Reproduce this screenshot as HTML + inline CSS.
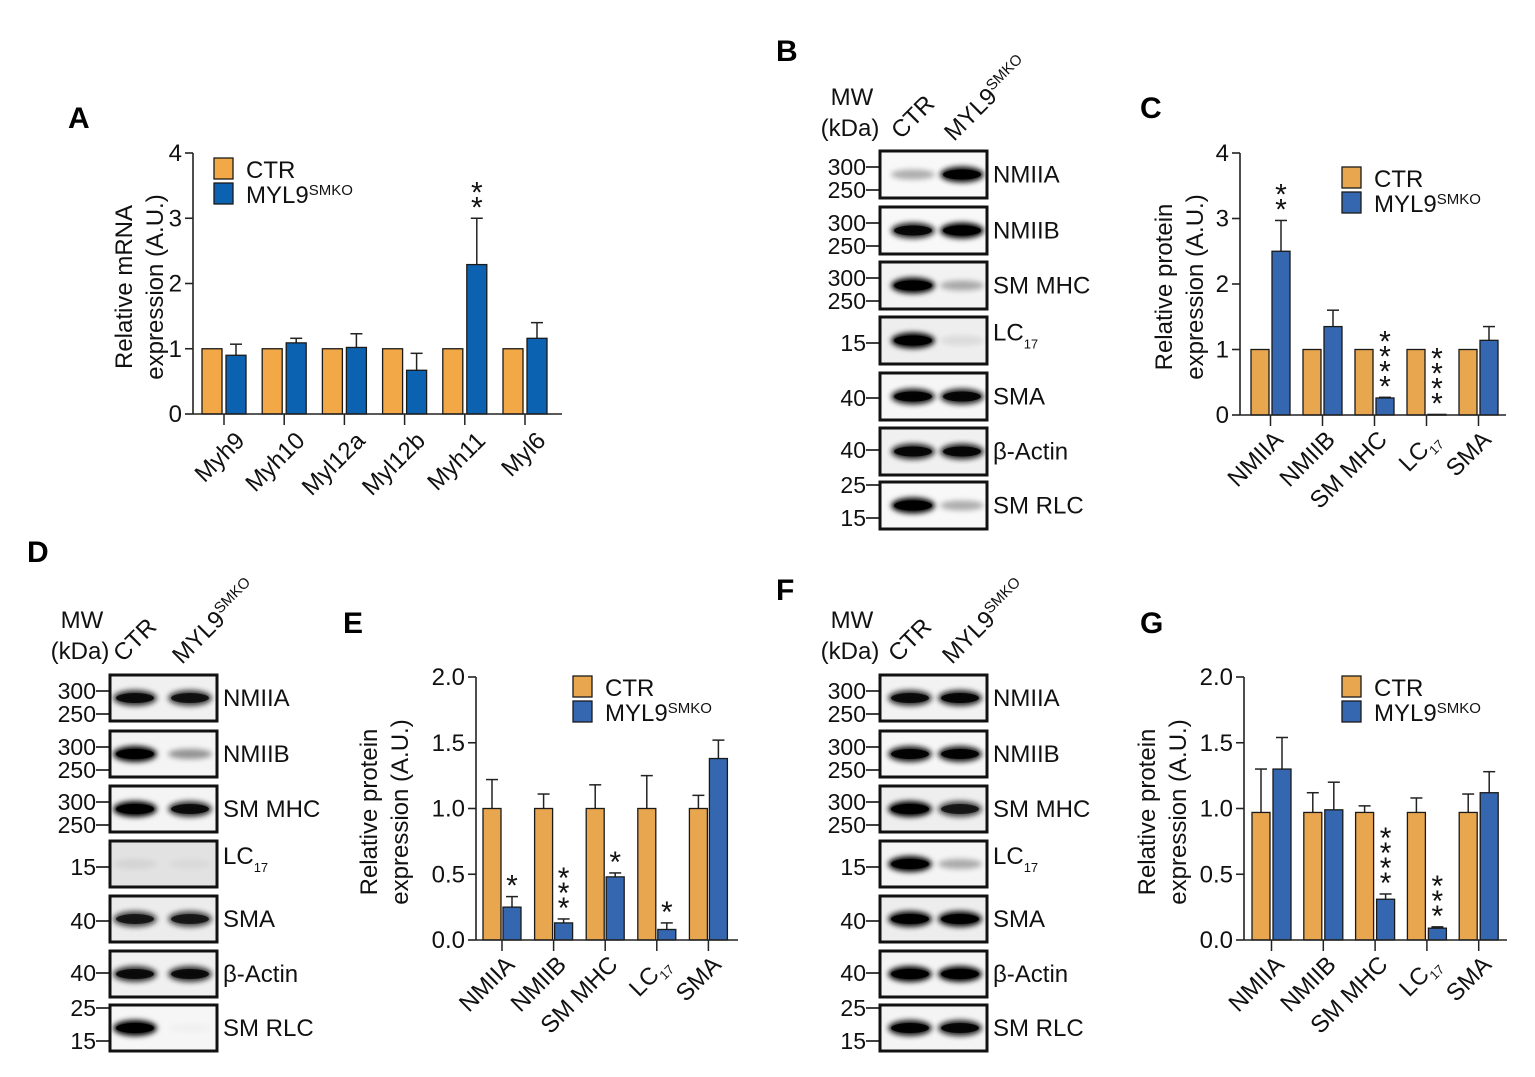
<!DOCTYPE html>
<html><head><meta charset="utf-8">
<style>
html,body{margin:0;padding:0;background:#fff;}
svg{display:block;font-family:"Liberation Sans",Arial,sans-serif;}
</style></head>
<body>
<svg id="fig" width="1535" height="1077" viewBox="0 0 1535 1077" xmlns="http://www.w3.org/2000/svg">
<defs>
<filter id="blur3" x="-50%" y="-100%" width="200%" height="300%"><feGaussianBlur stdDeviation="2.6"/></filter>
</defs>
<g font-weight="bold" font-size="30" fill="#000">
<text x="68" y="128">A</text>
<text x="776" y="61">B</text>
<text x="1140" y="118">C</text>
<text x="27" y="562">D</text>
<text x="343" y="633">E</text>
<text x="776" y="600">F</text>
<text x="1140" y="633">G</text>
</g>
<g id="charts"></g>
<g id="blots"></g>
</svg>
<script>
// ---------- chart data ----------
const aCategories = ['Myh9','Myh10','Myl12a','Myl12b','Myh11','Myl6'];
const aCtr = [1,1,1,1,1,1];
const aCtrErr = [1,1,1,1,1,1];
const aKo = [0.90,1.09,1.02,0.67,2.29,1.16];
const aKoErr = [1.07,1.16,1.23,0.93,3.00,1.40];
const aStars = ['','','','','**',''];
const aTicks = ['0','1','2','3','4'];

const cCategories = ['NMIIA','NMIIB','SM MHC','LC17','SMA'];
const cCtr = [1,1,1,1,1];
const cCtrErr = [1,1,1,1,1];
const cKo = [2.50,1.35,0.26,0.01,1.14];
const cKoErr = [2.97,1.60,0.27,0.01,1.35];
const cStars = ['**','','****','****',''];
const cTicks = ['0','1','2','3','4'];

const eCategories = ['NMIIA','NMIIB','SM MHC','LC17','SMA'];
const eCtr = [1,1,1,1,1];
const eCtrErr = [1.22,1.11,1.18,1.25,1.10];
const eKo = [0.25,0.13,0.48,0.08,1.38];
const eKoErr = [0.33,0.16,0.51,0.13,1.52];
const eStars = ['*','***','*','*',''];
const eTicks = ['0.0','0.5','1.0','1.5','2.0'];

const gCategories = ['NMIIA','NMIIB','SM MHC','LC17','SMA'];
const gCtr = [0.97,0.97,0.97,0.97,0.97];
const gCtrErr = [1.30,1.12,1.02,1.08,1.11];
const gKo = [1.30,0.99,0.31,0.09,1.12];
const gKoErr = [1.54,1.20,0.35,0.10,1.28];
const gStars = ['','','****','***',''];
const gTicks = ['0.0','0.5','1.0','1.5','2.0'];

const NS='http://www.w3.org/2000/svg';
function mk(tag, attrs, parent){const e=document.createElementNS(NS,tag);for(const k in attrs)e.setAttribute(k,attrs[k]);if(parent)parent.appendChild(e);return e;}

function chart(id, L, cats, ctr, ctrErr, ko, koErr, stars, ticks){
  const root=document.getElementById('charts');
  const g=mk('g',{},root);
  
  
  const ymax=parseFloat(ticks[ticks.length-1]);
  const yS=v=>L.y0-(v/ymax)*(L.y0-L.yTop);
  const gx=i=>L.first+i*L.spacing;
  const ctrX=i=>gx(i);
  const koX=i=>gx(i)+L.barW+L.gap;
  const tickX=i=>gx(i)+L.barW+L.gap/2;
  const ya=mk('line',{x1:L.axisX,y1:L.yTop,x2:L.axisX,y2:L.y0,stroke:'#222','stroke-width':1.6},g);
  
  
  ticks.forEach((t,k)=>{
    const v=parseFloat(t), y=yS(v);
    mk('line',{x1:L.axisX-8,y1:y,x2:L.axisX,y2:y,stroke:'#222','stroke-width':1.6},g);
    const tx=mk('text',{x:L.axisX-11,y:y+8,'text-anchor':'end','font-size':24,fill:'#111'},g);
    tx.textContent=t;
    
    
  });
  cats.forEach((c,i)=>{
    const series=[[ctrX(i),ctr[i],ctrErr[i],L.orange,'ctr'],[koX(i),ko[i],koErr[i],L.blue,'ko']];
    series.forEach(s=>{
      const x=s[0], v=s[1], e=s[2];
      if(e>v){
        mk('line',{x1:x+L.barW/2,y1:yS(e),x2:x+L.barW/2,y2:yS(v),stroke:'#222','stroke-width':1.5},g);
        mk('line',{x1:x+L.barW/2-6,y1:yS(e),x2:x+L.barW/2+6,y2:yS(e),stroke:'#222','stroke-width':1.5},g);
      }
      const r=mk('rect',{x:x,y:yS(v),width:L.barW,height:Math.max(0.8,L.y0-yS(v)),fill:s[3],stroke:'#1a1a1a','stroke-width':1.3},g);
      
      
    });
    const st=stars[i];
    for(let k=0;k<st.length;k++){
      const sy=yS(koErr[i])-k*15;
      const t=mk('text',{x:koX(i)+L.barW/2,y:sy-1,'text-anchor':'middle','font-size':30,fill:'#111'},g);
      t.textContent='*';
      
      
    }
  });
  const xa=mk('line',{x1:L.axisX,y1:L.y0,x2:L.axisEnd,y2:L.y0,stroke:'#222','stroke-width':1.6},g);
  
  
  cats.forEach((c,i)=>{
    const tx=tickX(i);
    mk('line',{x1:tx,y1:L.y0,x2:tx,y2:L.y0+11,stroke:'#222','stroke-width':1.5},g);
    const ax=tx+L.lblDx, ay=L.y0+L.lblDy;
    const t=mk('text',{x:ax,y:ay,'text-anchor':'end','font-size':24,fill:'#111',transform:'rotate(-45 '+ax+' '+ay+')'},g);
    
    
    if(c==='LC17'){
      t.appendChild(document.createTextNode('LC'));
      const s=mk('tspan',{'font-size':13,dy:6},t); s.textContent='17';
    } else t.textContent=c;
  });
  const tg=mk('g',{transform:'translate('+L.titleX+' '+L.titleY+') rotate(-90)'},g);
  const t1=mk('text',{x:0,y:0,'text-anchor':'middle','font-size':24,fill:'#111'},tg);
  t1.textContent=L.title1;
  
  
  const t2=mk('text',{x:0,y:31,'text-anchor':'middle','font-size':24,fill:'#111'},tg);
  t2.textContent=L.title2;
  const lg=mk('g',{},g);
  
  
  const sw1=mk('rect',{x:L.legX,y:L.legY,width:19,height:21,fill:L.orange,stroke:'#1a1a1a','stroke-width':1.3},lg);
  
  
  const sw2=mk('rect',{x:L.legX,y:L.legY+25,width:19,height:21,fill:L.blue,stroke:'#1a1a1a','stroke-width':1.3},lg);
  
  
  const l1=mk('text',{x:L.legX+32,y:L.legY+20,'font-size':24,fill:'#111'},lg);
  l1.textContent='CTR';
  
  
  const l2=mk('text',{x:L.legX+32,y:L.legY+45,'font-size':24,fill:'#111'},lg);
  
  
  l2.appendChild(document.createTextNode('MYL9'));
  const sp=mk('tspan',{'font-size':15,dy:-8},l2); sp.textContent='SMKO';
}

chart('panel-a',{axisX:193,y0:414,yTop:153,axisEnd:562,first:202,spacing:60.2,barW:20,gap:4,
  orange:'#F2A846',blue:'#0B62B0',lblDx:22,lblDy:28,titleX:132,titleY:287,title1:'Relative mRNA',title2:'expression (A.U.)',legX:214,legY:158},
  aCategories,aCtr,aCtrErr,aKo,aKoErr,aStars,aTicks);
chart('panel-c',{axisX:1240,y0:415,yTop:153,axisEnd:1506,first:1251,spacing:52,barW:18,gap:3,
  orange:'#E8A64E',blue:'#3467AF',lblDx:14,lblDy:26,titleX:1172,titleY:287,title1:'Relative protein',title2:'expression (A.U.)',legX:1342,legY:167},
  cCategories,cCtr,cCtrErr,cKo,cKoErr,cStars,cTicks);
chart('panel-e',{axisX:476,y0:940,yTop:677,axisEnd:738,first:483,spacing:51.6,barW:18,gap:2,
  orange:'#E8A64E',blue:'#3467AF',lblDx:14,lblDy:26,titleX:377,titleY:812,title1:'Relative protein',title2:'expression (A.U.)',legX:573,legY:676},
  eCategories,eCtr,eCtrErr,eKo,eKoErr,eStars,eTicks);
chart('panel-g',{axisX:1244,y0:940,yTop:677,axisEnd:1507,first:1252,spacing:51.8,barW:18,gap:3,
  orange:'#E8A64E',blue:'#3467AF',lblDx:14,lblDy:26,titleX:1155,titleY:812,title1:'Relative protein',title2:'expression (A.U.)',legX:1342,legY:676},
  gCategories,gCtr,gCtrErr,gKo,gKoErr,gStars,gTicks);

// ---------- western blots ----------
const blotLabels=['NMIIA','NMIIB','SM MHC','LC17','SMA','β-Actin','SM RLC'];
const blotMarkers=[[['300',16],['250',39]],[['300',16],['250',39]],[['300',16],['250',39]],[['15',26]],[['40',25]],[['40',22]],[['25',3],['15',36]]];
const bBands=[[0.3,0.95],[0.85,1],[1,0.3],[1,0.08],[0.9,0.85],[0.85,0.85],[1,0.3]];
const dBands=[[0.8,0.75],[1,0.4],[1,0.8],[0.06,0.03],[0.7,0.7],[0.8,0.8],[1,0.02]];
const fBands=[[0.8,0.85],[0.9,0.9],[1,0.7],[1,0.3],[0.95,0.95],[1,1],[0.9,0.85]];

function blot(id, boxX, tops, h, lanes, bands, hdrY, bg){
  const root=document.getElementById('blots');
  const g=mk('g',{},root);
  
  
  const mw=mk('text',{x:boxX-28,y:hdrY,'text-anchor':'middle','font-size':24,fill:'#111'},g);
  mw.textContent='MW';
  const kd=mk('text',{x:boxX-30,y:hdrY+31,'text-anchor':'middle','font-size':24,fill:'#111'},g);
  kd.textContent='(kDa)';
  const cx=lanes[0]-12, cy=hdrY+35;
  const c1=mk('text',{x:cx,y:cy,'font-size':24,fill:'#111',transform:'rotate(-45 '+cx+' '+cy+')'},g);
  c1.textContent='CTR';
  
  
  const kx=lanes[1]-8, ky=hdrY+37;
  const c2=mk('text',{x:kx,y:ky,'font-size':24,fill:'#111',transform:'rotate(-45 '+kx+' '+ky+')'},g);
  
  
  c2.appendChild(document.createTextNode('MYL9'));
  const s=mk('tspan',{'font-size':15,dy:-9},c2); s.textContent='SMKO';
  tops.forEach((t,r)=>{
    const rg=mk('g',{},g);
    
    
    mk('rect',{x:boxX,y:t,width:107,height:h,fill:bg[r]||'#f7f7f7'},rg);
    const mid=t+h/2;
    bands[r].forEach((a,l)=>{
      if(a<0.02) return;
      mk('ellipse',{cx:lanes[l],cy:mid,rx:22,ry:a>0.6?8:5,fill:'#000',opacity:Math.min(1,a),filter:'url(#blur3)'},rg);
      if(a>0.6) mk('ellipse',{cx:lanes[l],cy:mid,rx:19,ry:5,fill:'#000',opacity:a},rg);
    });
    mk('rect',{x:boxX,y:t,width:107,height:h,fill:'none',stroke:'#111','stroke-width':3},rg);
    blotMarkers[r].forEach(m=>{
      const my=t+m[1];
      mk('line',{x1:boxX-14,y1:my,x2:boxX,y2:my,stroke:'#111','stroke-width':1.6},rg);
      const mt=mk('text',{x:boxX-14,y:my+8,'text-anchor':'end','font-size':23,fill:'#111'},rg);
      mt.textContent=m[0];
    });
    const lb=mk('text',{x:boxX+113,y:mid+8,'font-size':24,fill:'#111'},rg);
    
    
    if(blotLabels[r]==='LC17'){
      lb.setAttribute('y',mid);
      lb.appendChild(document.createTextNode('LC'));
      const ss=mk('tspan',{'font-size':13,dy:8},lb); ss.textContent='17';
    } else lb.textContent=blotLabels[r];
  });
}
blot('panel-b',880,[151,207,262,317,373,428,482],47,[913,962],bBands,105,['#f8f8f8','#f8f8f8','#f2f2f2','#eeeeee','#f6f6f6','#f0f0f0','#f8f8f8']);
blot('panel-d',110,[675,731,786,841,896,951,1005],46,[135,190],dBands,628,['#f0f0f0','#f4f4f4','#f4f4f4','#e2e2e2','#ececec','#f0f0f0','#f6f6f6']);
blot('panel-f',880,[675,731,786,841,896,951,1005],46,[910,960],fBands,628,['#f2f2f2','#f6f6f6','#eeeeee','#f4f4f4','#ededed','#f4f4f4','#f4f4f4']);
</script>
</body></html>
